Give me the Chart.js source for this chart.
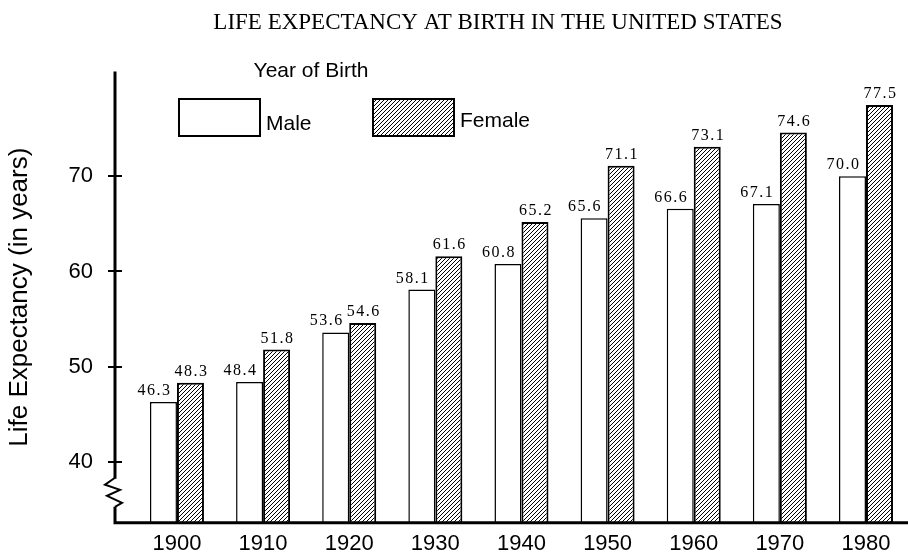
<!DOCTYPE html>
<html>
<head>
<meta charset="utf-8">
<script src="https://cdn.jsdelivr.net/npm/chart.js@4.4.1/dist/chart.umd.min.js"></script>
<style>
  html, body { margin: 0; padding: 0; background: #fff; }
  #wrap { width: 908px; height: 557px; }
</style>
</head>
<body>
<div id="wrap"><canvas id="chart" width="908" height="557"></canvas></div>
<script>
// chart texts
const TITLE        = "LIFE EXPECTANCY AT BIRTH IN THE UNITED STATES";
const Y_TITLE      = "Life Expectancy (in years)";
const LEGEND_TITLE = "Year of Birth";

// data
const years  = [1900, 1910, 1920, 1930, 1940, 1950, 1960, 1970, 1980];
const male   = [46.3, 48.4, 53.6, 58.1, 60.8, 65.6, 66.6, 67.1, 70.0];
const female = [48.3, 51.8, 54.6, 61.6, 65.2, 71.1, 73.1, 74.6, 77.5];
const yTicks = [40, 50, 60, 70];

// axis ranges (y axis is broken below 40)
const xRange = [1892.69, 1981.86];
const yRange = [33.6, 81.0];

const SANS  = "'Liberation Sans', Arial, sans-serif";
const SERIF = "'Liberation Serif', 'Times New Roman', serif";

const canvas = document.getElementById("chart");
const ctx    = canvas.getContext("2d");

// "/" hatch for the female bars
function makeHatch() {
  const p = document.createElement("canvas");
  p.width = 4; p.height = 4;
  const g = p.getContext("2d");
  g.fillStyle = "#fff";
  g.fillRect(0, 0, 4, 4);
  g.fillStyle = "#000";
  for (let i = 0; i < 4; i++) g.fillRect(i, 3 - i, 1, 1);
  return ctx.createPattern(p, "repeat");
}
const hatch = makeHatch();

// bars may run past the right edge of the plot, not below it
const barClip = { left: 0, top: 60, right: 40, bottom: 0 };

// thick axes with a break on the y axis below 40
const brokenAxis = {
  id: "brokenAxis",
  afterDatasetsDraw(chart) {
    const { ctx, chartArea } = chart;
    const ys = chart.scales.y;
    const x0 = chartArea.left + 1;
    const yb = chartArea.bottom;
    ctx.save();
    ctx.strokeStyle = "#000";
    ctx.lineCap = "butt";

    ctx.lineWidth = 3;
    ctx.beginPath();
    ctx.moveTo(x0, chartArea.top);
    ctx.lineTo(x0, yb - 44);
    ctx.moveTo(x0, yb - 16);
    ctx.lineTo(x0, yb + 1.5);
    ctx.moveTo(x0 - 1.5, yb);
    ctx.lineTo(chart.width, yb);
    ctx.stroke();

    ctx.lineWidth = 2;
    ctx.beginPath();
    ctx.moveTo(x0, yb - 45);
    ctx.lineTo(x0 - 10, yb - 38);
    ctx.lineTo(x0 + 5, yb - 33);
    ctx.lineTo(x0 - 8, yb - 27);
    ctx.lineTo(x0 + 7, yb - 20);
    ctx.lineTo(x0, yb - 16);
    ctx.stroke();

    ctx.beginPath();
    ys.ticks.forEach(t => {
      const y = Math.round(ys.getPixelForValue(t.value));
      ctx.moveTo(x0 - 7, y);
      ctx.lineTo(x0 + 7, y);
    });
    ctx.stroke();
    ctx.restore();
  },
};

// value printed above every bar
const valueLabels = {
  id: "valueLabels",
  afterDatasetsDraw(chart) {
    const ctx = chart.ctx;
    ctx.save();
    ctx.font = "16px " + SERIF;
    ctx.letterSpacing = "1.5px";
    ctx.fillStyle = "#000";
    ctx.textAlign = "center";
    ctx.textBaseline = "alphabetic";
    chart.data.datasets.forEach((ds, i) => {
      const shift = i === 0 ? -9 : 1;
      chart.getDatasetMeta(i).data.forEach((bar, j) => {
        ctx.fillText(ds.data[j].y.toFixed(1), bar.x + shift, bar.y - 7);
      });
    });
    ctx.restore();
  },
};

// legend inside the plot, as in the original
const legendBox = {
  id: "legendBox",
  afterDraw(chart) {
    const ctx = chart.ctx;
    const spots = [{ x: 178, y: 98, ty: 130 }, { x: 372, y: 98, ty: 127 }];
    ctx.save();
    ctx.font = "21px " + SANS;
    ctx.fillStyle = "#000";
    ctx.textAlign = "center";
    ctx.textBaseline = "alphabetic";
    ctx.fillText(LEGEND_TITLE, 311, 77);
    ctx.textAlign = "left";
    chart.data.datasets.forEach((ds, i) => {
      const s = spots[i];
      ctx.fillStyle = ds.backgroundColor;
      ctx.fillRect(s.x, s.y, 83, 39);
      ctx.lineWidth = 2;
      ctx.strokeStyle = "#000";
      ctx.strokeRect(s.x + 1, s.y + 1, 81, 37);
      ctx.fillStyle = "#000";
      ctx.fillText(ds.label, s.x + 88, s.ty);
    });
    ctx.restore();
  },
};

new Chart(ctx, {
  type: "bar",
  data: {
    datasets: [
      {
        label:              "Male",
        data:               years.map((x, i) => ({ x, y: male[i] })),
        backgroundColor:    "#fff",
        borderColor:        "#000",
        borderWidth:        1.5,
        categoryPercentage: 0.627,
        barPercentage:      1,
        clip:               barClip,
      },
      {
        label:              "Female",
        data:               years.map((x, i) => ({ x, y: female[i] })),
        backgroundColor:    hatch,
        borderColor:        "#000",
        borderWidth:        2,
        categoryPercentage: 0.627,
        barPercentage:      1,
        clip:               barClip,
      },
    ],
  },
  options: {
    responsive: false,
    animation:  false,
    events:     [],
    color:      "#000",
    layout: { padding: { left: 0, right: 26, top: 0, bottom: 0 } },
    plugins: {
      legend:  { display: false },
      tooltip: { enabled: false },
      title: {
        display:  true,
        text:     TITLE,
        fullSize: false,
        color:    "#000",
        font:     { family: SERIF, size: 23, weight: "normal" },
        padding:  { top: 9, bottom: 35 },
      },
    },
    scales: {
      x: {
        type:   "linear",
        min:    xRange[0],
        max:    xRange[1],
        offset: false,
        grid:   { display: false, drawTicks: false, offset: false },
        border: { display: false },
        afterBuildTicks: s => { s.ticks = years.map(v => ({ value: v })); },
        afterFit: s => { s.height = 33; },
        ticks: {
          padding:     8,
          color:       "#000",
          autoSkip:    false,
          maxRotation: 0,
          font:        { family: SANS, size: 22 },
          callback:    v => String(v),
        },
      },
      y: {
        min:    yRange[0],
        max:    yRange[1],
        grid:   { display: false, drawTicks: false },
        border: { display: false },
        afterBuildTicks: s => { s.ticks = yTicks.map(v => ({ value: v })); },
        afterFit: s => { s.width = 114; },
        ticks: {
          padding:  21,
          color:    "#000",
          autoSkip: false,
          font:     { family: SANS, size: 22 },
          callback: v => String(v),
        },
        title: {
          display: true,
          text:    Y_TITLE,
          color:   "#000",
          font:    { family: SANS, size: 26 },
          padding: { top: 4, bottom: 0 },
        },
      },
    },
  },
  plugins: [brokenAxis, valueLabels, legendBox],
});
</script>
</body>
</html>
